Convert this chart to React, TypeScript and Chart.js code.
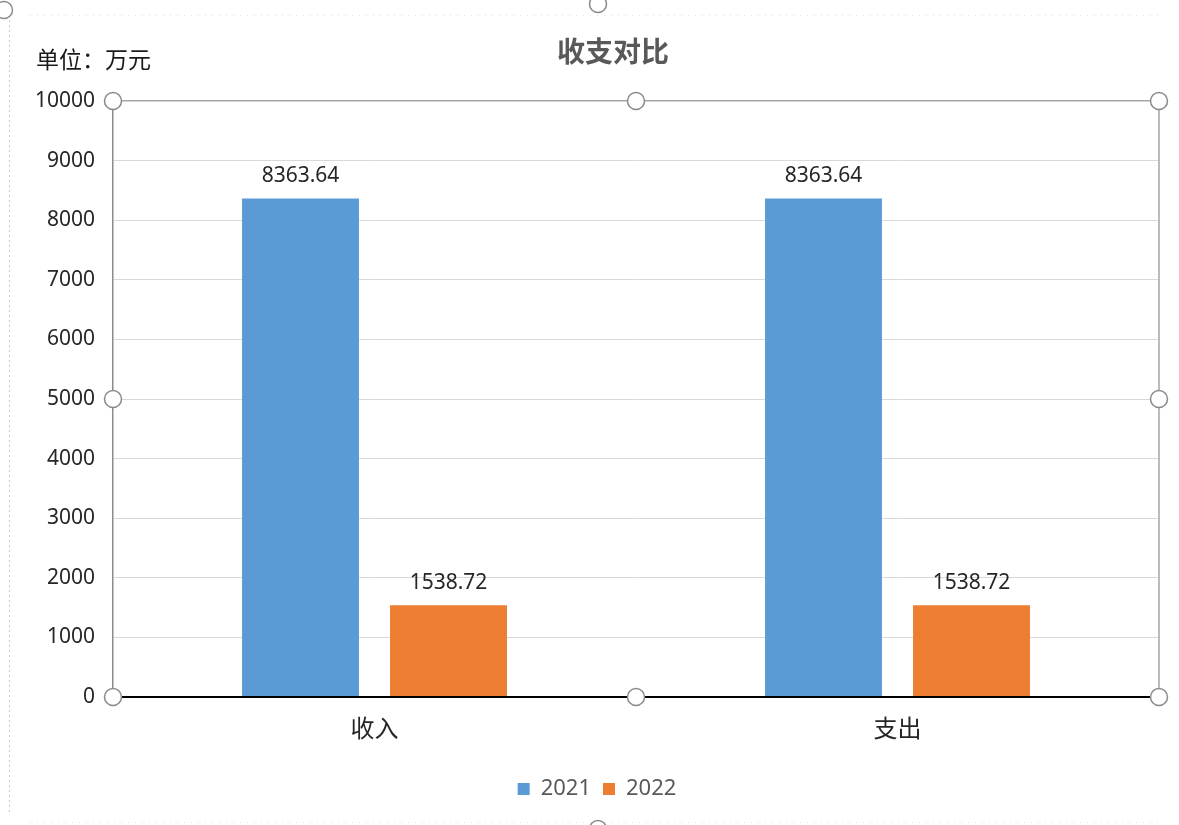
import React, { useEffect, useRef } from "react";
import { Chart, registerables } from "chart.js";

Chart.register(...registerables);

const categories = ["收入", "支出"];
const series2021 = [8363.64, 8363.64];
const series2022 = [1538.72, 1538.72];
const seriesLabels = ["2021", "2022"];
const yMin = 0;
const yMax = 10000;
const yStep = 1000;
const titleText = "收支对比";
const unitText = "单位：万元";

const NUM_FONT = "'Noto Sans', 'Noto Sans CJK SC', sans-serif";
const CJK_FONT = "'Noto Sans CJK SC', 'Noto Sans', sans-serif";

const decorPlugin = {
  id: "decor",
  beforeDraw(chart: any) {
    const { ctx, width, height } = chart;
    ctx.save();
    ctx.fillStyle = "#ffffff";
    ctx.fillRect(0, 0, width, height);
    ctx.strokeStyle = "#c8c8c8";
    ctx.lineWidth = 1;
    ctx.setLineDash([2, 3]);
    ctx.beginPath();
    ctx.moveTo(9.5, 20);
    ctx.lineTo(9.5, 812);
    ctx.stroke();
    ctx.setLineDash([1, 6]);
    ctx.strokeStyle = "#e2e2e2";
    ctx.beginPath();
    ctx.moveTo(30, 15.5);
    ctx.lineTo(1160, 15.5);
    ctx.moveTo(30, 822.5);
    ctx.lineTo(1160, 822.5);
    ctx.stroke();
    ctx.setLineDash([]);
    ctx.restore();
  },
  afterDraw(chart: any) {
    const { ctx, chartArea } = chart;
    const { left, right, top, bottom } = chartArea;
    ctx.save();
    ctx.fillStyle = "#595959";
    ctx.font = `bold 28px ${CJK_FONT}`;
    ctx.textAlign = "center";
    ctx.textBaseline = "middle";
    ctx.fillText(titleText, 613, 51);
    ctx.fillStyle = "#1a1a1a";
    ctx.font = `23px ${CJK_FONT}`;
    ctx.textAlign = "left";
    ctx.fillText(unitText, 36, 59);
    ctx.strokeStyle = "#a6a6a6";
    ctx.lineWidth = 1.5;
    ctx.beginPath();
    ctx.moveTo(right, top);
    ctx.lineTo(right, bottom);
    ctx.stroke();
    const midX = (left + right) / 2;
    const midY = (top + bottom) / 2;
    const pts = [
      [left, top], [midX, top], [right, top],
      [left, midY], [right, midY],
      [left, bottom], [midX, bottom], [right, bottom],
      [598, 4], [598, 829], [4, 10],
    ];
    ctx.lineWidth = 1.5;
    ctx.strokeStyle = "#8a8a8a";
    ctx.fillStyle = "#ffffff";
    for (const [x, y] of pts) {
      ctx.beginPath();
      ctx.arc(x, y, 8.5, 0, Math.PI * 2);
      ctx.fill();
      ctx.stroke();
    }
    ctx.restore();
  },
  afterDatasetsDraw(chart: any) {
    const { ctx } = chart;
    ctx.save();
    ctx.fillStyle = "#262626";
    ctx.font = `21px ${NUM_FONT}`;
    ctx.textAlign = "center";
    ctx.textBaseline = "bottom";
    chart.data.datasets.forEach((ds: any, i: number) => {
      const meta = chart.getDatasetMeta(i);
      meta.data.forEach((bar: any, j: number) => {
        const v = ds.data[j];
        ctx.fillText(v.toFixed(2), bar.x, bar.y - 12);
      });
    });
    ctx.restore();
  },
};

export default function App() {
  const ref = useRef<HTMLCanvasElement | null>(null);
  useEffect(() => {
    if (!ref.current) return;
    const chart = new Chart(ref.current, {
      type: "bar",
      data: {
        labels: categories,
        datasets: [
          {
            label: seriesLabels[0],
            data: series2021,
            backgroundColor: "#5B9BD5",
            categoryPercentage: 0.566,
            barPercentage: 0.79,
          },
          {
            label: seriesLabels[1],
            data: series2022,
            backgroundColor: "#ED7D31",
            categoryPercentage: 0.566,
            barPercentage: 0.79,
          },
        ],
      },
      options: {
        animation: false,
        responsive: false,
        layout: { padding: { top: 101, left: 35, right: 20, bottom: 15 } },
        plugins: {
          title: { display: false },
          tooltip: { enabled: false },
          legend: {
            position: "bottom",
            labels: {
              boxWidth: 12,
              boxHeight: 12,
              color: "#595959",
              font: { size: 22, family: NUM_FONT },
              padding: 12,
            },
          },
        },
        scales: {
          x: {
            grid: { display: false },
            border: { display: false },
            ticks: {
              color: "#262626",
              font: { size: 24, family: CJK_FONT },
              padding: 8,
            },
            afterFit: (scale: any) => {
              scale.height = 69;
            },
          },
          y: {
            min: yMin,
            max: yMax,
            ticks: {
              stepSize: yStep,
              color: "#262626",
              font: { size: 21, family: NUM_FONT },
              padding: 18,
              callback: (v: any) => String(v),
            },
            grid: {
              drawTicks: false,
              color: (c: any) =>
                c.tick && c.tick.value === yMax
                  ? "#a6a6a6"
                  : c.tick && c.tick.value === yMin
                  ? "#000000"
                  : "#d9d9d9",
              lineWidth: (c: any) =>
                c.tick && c.tick.value === yMin ? 2 : c.tick && c.tick.value === yMax ? 1.5 : 1,
            },
            border: { display: true, color: "#8c8c8c", width: 1.5 },
            afterFit: (scale: any) => {
              scale.width = 78;
            },
          },
        },
      },
      plugins: [decorPlugin],
    });
    return () => chart.destroy();
  }, []);
  return (
    <div style={{ position: "absolute", left: 0, top: 0, width: 1179, height: 825, background: "#fff" }}>
      <canvas ref={ref} width={1179} height={825} style={{ display: "block" }} />
    </div>
  );
}
